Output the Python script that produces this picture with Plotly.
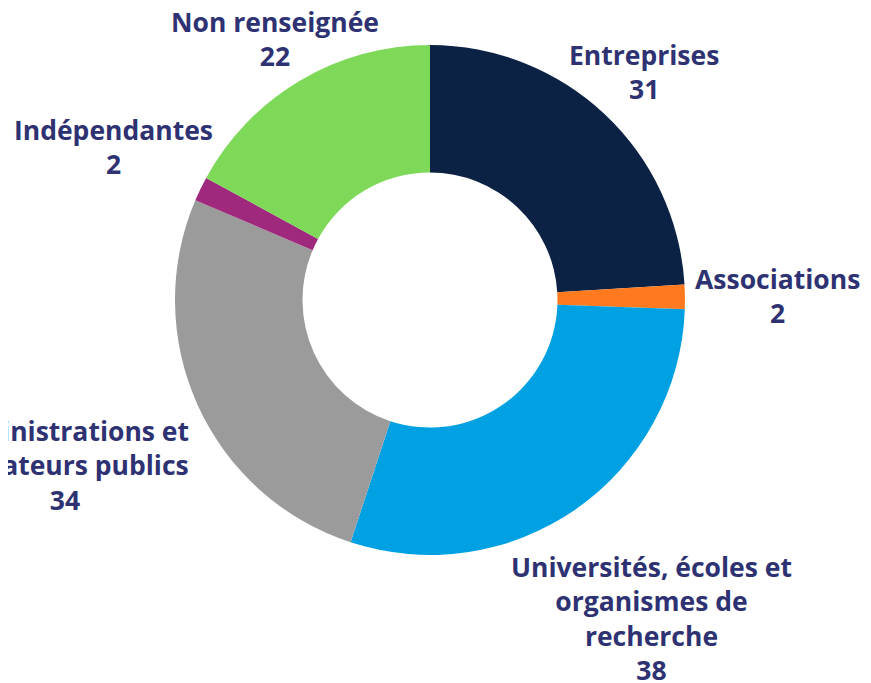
import math
import plotly.graph_objects as go

labels = ["Entreprises", "Associations", "Universités, écoles et<br>organismes de<br>recherche",
          "Administrations et<br>opérateurs publics", "Indépendantes", "Non renseignée"]
values = [31, 2, 38, 34, 2, 22]
colors = ["#0c2244", "#ff7a1f", "#00a1e2", "#9b9b9c", "#9f297c", "#7fd958"]
# distance from donut centre to label centre (px), style only
label_radius = [313, 348, 388, 401, 352, 303]

W, H = 871, 683
OFF = 8  # page body margin
cx, cy, R = 430 - OFF, 300 - OFF, 255
text_color = "#2e3272"
font = dict(family="Open Sans", size=26.5, color=text_color, weight="bold")

fig = go.Figure(go.Pie(
    labels=labels, values=values, hole=0.5, sort=False, direction="clockwise", rotation=0,
    marker=dict(colors=colors, line=dict(width=0)),
    textinfo="none", hoverinfo="label+value",
    showlegend=False, automargin=False,
    domain=dict(x=[(cx - R) / W, (cx + R) / W], y=[(H - cy - R) / H, (H - cy + R) / H]),
))

total = sum(values)
cum = 0
for lab, v, rl in zip(labels, values, label_radius):
    mid = (cum + v / 2) / total * 2 * math.pi
    cum += v
    px = cx + rl * math.sin(mid)
    py = cy - rl * math.cos(mid)
    fig.add_annotation(
        x=px / W, y=1 - py / H, xref="paper", yref="paper",
        text=f"{lab}<br>{v}", showarrow=False, xanchor="center", yanchor="middle",
        align="center", font=font,
    )

fig.update_layout(width=W, height=H, margin=dict(l=0, r=0, t=0, b=0),
                  paper_bgcolor="white", plot_bgcolor="white")
fig.write_html("out.html")
